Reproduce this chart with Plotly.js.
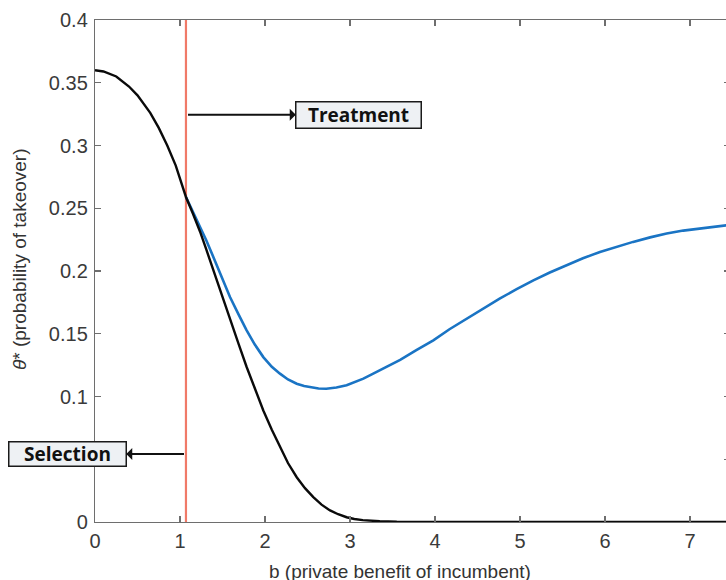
<!DOCTYPE html>
<html>
<head>
<meta charset="utf-8">
<script src="https://cdn.plot.ly/plotly-3.0.1.min.js"></script>
<style>
html,body{margin:0;padding:0;overflow:hidden;background:#fff;}
#chart{width:730px;height:580px;}
</style>
</head>
<body>
<div id="chart"></div>
<script>
// Selection curve (black)
const bBlack = [0, 0.1, 0.25, 0.4, 0.5, 0.65, 0.75, 0.85, 0.95, 1.07, 1.15, 1.235, 1.31, 1.392, 1.49, 1.588, 1.69, 1.784, 1.88, 1.98, 2.08, 2.176, 2.27, 2.373, 2.47, 2.568, 2.665, 2.765, 2.86, 2.96, 3.05, 3.15, 3.25, 3.35, 3.55, 3.75, 4.0, 5.0, 6.0, 7.0, 7.5];
const thetaBlack = [0.360, 0.359, 0.355, 0.347, 0.340, 0.326, 0.314, 0.300, 0.284, 0.259, 0.246, 0.2315, 0.2170, 0.2006, 0.1805, 0.1607, 0.1418, 0.1235, 0.106, 0.0889, 0.0735, 0.0597, 0.047, 0.0357, 0.027, 0.0198, 0.0138, 0.0092, 0.0062, 0.0038, 0.0024, 0.0015, 0.0009, 0.0006, 0.0002, 0.0001, 0, 0, 0, 0, 0];
// Treatment curve (blue)
const bBlue = [1.07, 1.15, 1.235, 1.31, 1.392, 1.49, 1.588, 1.69, 1.784, 1.88, 1.98, 2.08, 2.176, 2.27, 2.373, 2.46, 2.55, 2.63, 2.72, 2.84, 2.96, 3.06, 3.157, 3.25, 3.35, 3.47, 3.59, 3.78, 3.98, 4.17, 4.37, 4.56, 4.76, 4.96, 5.157, 5.35, 5.55, 5.74, 5.94, 6.13, 6.33, 6.53, 6.725, 6.92, 7.12, 7.3, 7.5];
const thetaBlue = [0.259, 0.2478, 0.2358, 0.2243, 0.2112, 0.1951, 0.1793, 0.1652, 0.1527, 0.1414, 0.1314, 0.1237, 0.1182, 0.1136, 0.1102, 0.1083, 0.1070, 0.1064, 0.1062, 0.1071, 0.1089, 0.1113, 0.1142, 0.1174, 0.1208, 0.1250, 0.1292, 0.1370, 0.1448, 0.1536, 0.1621, 0.1702, 0.1780, 0.1855, 0.1926, 0.1988, 0.2046, 0.2101, 0.2152, 0.2194, 0.2232, 0.2268, 0.2299, 0.2322, 0.2339, 0.2355, 0.237];
// Vertical marker at threshold b
const bThreshold = [1.07, 1.07];
const thetaThreshold = [0, 0.4];
// Ticks
const xTicks = [0, 1, 2, 3, 4, 5, 6, 7];
const yTicks = [0, 0.05, 0.1, 0.15, 0.2, 0.25, 0.3, 0.35, 0.4];
const yTickText = ['0', '0.05', '0.1', '0.15', '0.2', '0.25', '0.3', '0.35', '0.4'];

const traces = [
  {x: bThreshold, y: thetaThreshold, mode: 'lines', line: {color: '#f07a68', width: 2.2}, hoverinfo: 'skip', showlegend: false},
  {x: bBlue, y: thetaBlue, mode: 'lines', line: {color: '#1a74c4', width: 2.6}, showlegend: false},
  {x: bBlack, y: thetaBlack, mode: 'lines', line: {color: '#0a0a0a', width: 2.4}, showlegend: false}
];

const axisCommon = {
  showgrid: false, zeroline: false, showline: true, linecolor: '#6e6e6e', linewidth: 1.2,
  mirror: 'ticks', ticks: 'inside', ticklen: 6, tickwidth: 1.2, tickcolor: '#6e6e6e',
  tickfont: {family: 'Liberation Sans, Arial, sans-serif', size: 20, color: '#3a3a3a'}
};

const boxFont = {family: 'Open Sans, sans-serif', size: 19, color: '#111'};

const layout = {
  width: 730, height: 580,
  margin: {l: 95, r: 0, t: 20, b: 58, pad: 0},
  paper_bgcolor: '#fff', plot_bgcolor: '#fff',
  showlegend: false,
  xaxis: Object.assign({}, axisCommon, {range: [0, 7.47], tickvals: xTicks, ticktext: xTicks.map(String), ticklabelstandoff: 1}),
  yaxis: Object.assign({}, axisCommon, {range: [0, 0.4], tickvals: yTicks, ticktext: yTickText, ticklabelstandoff: 2}),
  annotations: [
    {xref: 'x', yref: 'y', x: 1.094, y: 0.3246, ax: 170.5, ay: 0, axref: 'pixel', ayref: 'pixel',
     text: '<b>Treatment</b>', font: boxFont, showarrow: true, arrowside: 'start', arrowhead: 2, arrowsize: 1, arrowwidth: 2, arrowcolor: '#111',
     bgcolor: '#eef1f4', bordercolor: '#1a1a1a', borderwidth: 1.5, borderpad: 2, width: 120, height: 21},
    {xref: 'x', yref: 'y', x: 1.047, y: 0.0542, ax: -116.5, ay: 0, axref: 'pixel', ayref: 'pixel',
     text: '<b>Selection</b>', font: boxFont, showarrow: true, arrowside: 'start', arrowhead: 2, arrowsize: 1, arrowwidth: 2, arrowcolor: '#111',
     bgcolor: '#eef1f4', bordercolor: '#1a1a1a', borderwidth: 1.5, borderpad: 2, width: 112, height: 19},
    {xref: 'paper', yref: 'paper', x: 0.480, y: -0.098, xanchor: 'center', yanchor: 'middle', showarrow: false,
     text: 'b (private benefit of incumbent)', font: {family: 'Liberation Sans, Arial, sans-serif', size: 19, color: '#333'}},
    {xref: 'paper', yref: 'paper', x: -0.118, y: 0.524, xanchor: 'center', yanchor: 'middle', showarrow: false, textangle: -90,
     text: '<i>θ</i>* (probability of takeover)', font: {family: 'Liberation Sans, Arial, sans-serif', size: 19, color: '#333'}}
  ]
};

Plotly.newPlot('chart', traces, layout, {displayModeBar: false, staticPlot: true});
</script>
</body>
</html>
